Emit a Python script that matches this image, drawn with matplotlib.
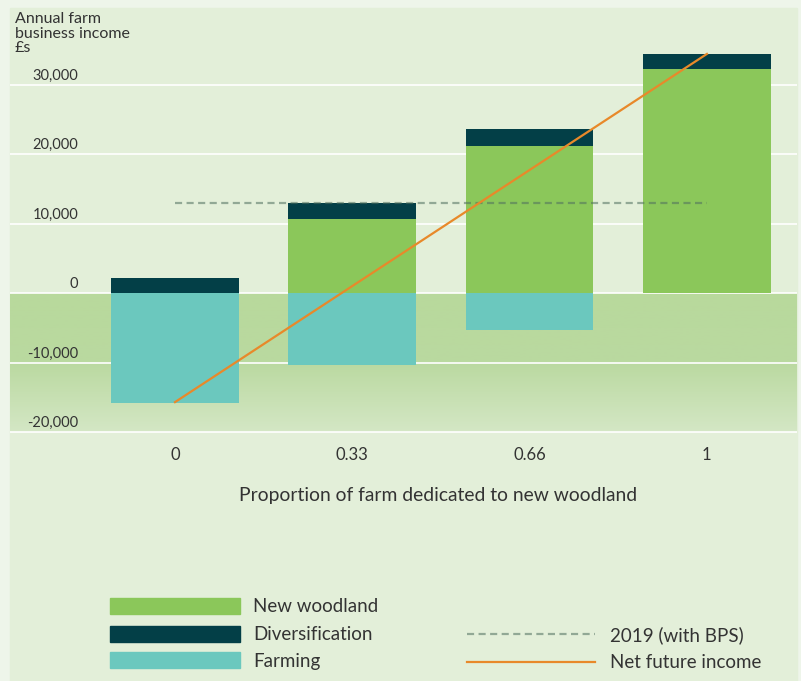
import numpy as np
import matplotlib
matplotlib.use("Agg")
import matplotlib.pyplot as plt
from matplotlib.patches import Rectangle
from matplotlib.lines import Line2D
from matplotlib.colors import LinearSegmentedColormap

# ── data ─────────────────────────────────────────────────────────────────────
categories      = ["0", "0.33", "0.66", "1"]
farming         = [-15800, -10400, -5300, 0]
new_woodland    = [0, 10600, 21100, 32200]
diversification = [2200, 2300, 2500, 2200]
net_future      = [-15700, 1000, 17700, 34400]
bps_2019        = 12900
y_ticks         = [-20000, -10000, 0, 10000, 20000, 30000]
y_tick_labels   = ["-20,000", "-10,000", "0", "10,000", "20,000", "30,000"]

# ── palette ──────────────────────────────────────────────────────────────────
C_WOOD  = "#8bc75a"
C_DIV   = "#033f47"
C_FARM  = "#6bc8be"
C_NET   = "#e8892a"
C_BPS   = "#4f6e5e"
C_PANEL = "#e3efd9"
C_OUTER = "#eef5ea"
C_TEXT  = "#333333"

plt.rcParams["font.family"] = ["Lato", "DejaVu Sans"]

W, H = 801, 681
fig = plt.figure(figsize=(W / 100, H / 100), dpi=100, facecolor=C_OUTER)

# light panel behind everything
fig.patches.append(Rectangle((10 / W, 0), 787 / W, 1 - 8 / H,
                             transform=fig.transFigure, color=C_PANEL, zorder=-5))

# axes placed so that data units match the reference pixel grid
ax_top, ax_bot = 8, 440
ax = fig.add_axes([10 / W, 1 - ax_bot / H, 787 / W, (ax_bot - ax_top) / H])
ax.set_zorder(2)
ax.set_facecolor("none")
px_per_cat = 177.3
px_per_unit = 69.5 / 10000
zero_px, first_px = 293, 175
ax.set_xlim((10 - first_px) / px_per_cat, (797 - first_px) / px_per_cat)
ax.set_ylim((zero_px - ax_bot) / px_per_unit, (zero_px - ax_top) / px_per_unit)
for s in ax.spines.values():
    s.set_visible(False)
ax.set_xticks([])
ax.set_yticks([])

# shaded band for the negative region (fades downwards)
grad = np.linspace(0, 1, 256).reshape(-1, 1)
cmap = LinearSegmentedColormap.from_list("band", ["#b8d99c", "#bad9a0", "#d4e7c5"])
xl = ax.get_xlim()
ax.imshow(grad, cmap=cmap, aspect="auto", extent=(xl[0], xl[1], -20000, 0),
          zorder=0.5)
ax.set_xlim(xl)

# gridlines
for t in y_ticks:
    ax.axhline(t, color="white", lw=1.2, zorder=1)

x = np.arange(len(categories))
bw = 0.72
ax.bar(x, farming, bw, color=C_FARM, zorder=2)
ax.bar(x, new_woodland, bw, color=C_WOOD, zorder=2)
ax.bar(x, diversification, bw, bottom=new_woodland, color=C_DIV, zorder=2)

ax.plot([x[0], x[-1]], [bps_2019, bps_2019], color=C_BPS, alpha=0.55,
        lw=1.6, dashes=(3.2, 2), zorder=3)
ax.plot(x, net_future, color=C_NET, lw=1.6, zorder=4)

# y tick labels sit just above their gridline
lab_x = (78 - first_px) / px_per_cat
for t, lab in zip(y_ticks, y_tick_labels):
    ax.annotate(lab, (lab_x, t), xytext=(0, 1.5), textcoords="offset points",
                ha="right", va="bottom", fontsize=10.5, color=C_TEXT)

# x tick labels and axis label
for xi, lab in zip(x, categories):
    ax.text(xi, (zero_px - 455) / px_per_unit, lab, ha="center", va="center",
            fontsize=12, color=C_TEXT, clip_on=False)
fig.text(438 / W, 1 - 495 / H, "Proportion of farm dedicated to new woodland",
         ha="center", va="center", fontsize=13.9, color=C_TEXT)

fig.text(15 / W, 1 - 12 / H, "Annual farm\nbusiness income\n£s", ha="left",
         va="top", fontsize=11.5, color=C_TEXT, linespacing=1.05)

# ── legend drawn by hand ─────────────────────────────────────────────────────
items = [("New woodland", C_WOOD, 607), ("Diversification", C_DIV, 635),
         ("Farming", C_FARM, 661)]
for lab, col, yc in items:
    fig.patches.append(Rectangle((110 / W, 1 - (yc + 7) / H), 130 / W, 16 / H,
                                 transform=fig.transFigure, color=col))
    fig.text(253 / W, 1 - yc / H, lab, ha="left", va="center",
             fontsize=13.5, color=C_TEXT)

fig.lines.append(Line2D([467 / W, 595 / W], [1 - 634 / H, 1 - 634 / H],
                        transform=fig.transFigure, color=C_BPS, alpha=0.55,
                        lw=1.6, dashes=(3.2, 2)))
fig.text(610 / W, 1 - 635 / H, "2019 (with BPS)", ha="left", va="center",
         fontsize=13.5, color=C_TEXT)
fig.lines.append(Line2D([467 / W, 595 / W], [1 - 662 / H, 1 - 662 / H],
                        transform=fig.transFigure, color=C_NET, lw=1.6))
fig.text(610 / W, 1 - 662 / H, "Net future income", ha="left", va="center",
         fontsize=13.5, color=C_TEXT)

fig.savefig("out.png", dpi=100, facecolor=fig.get_facecolor())
